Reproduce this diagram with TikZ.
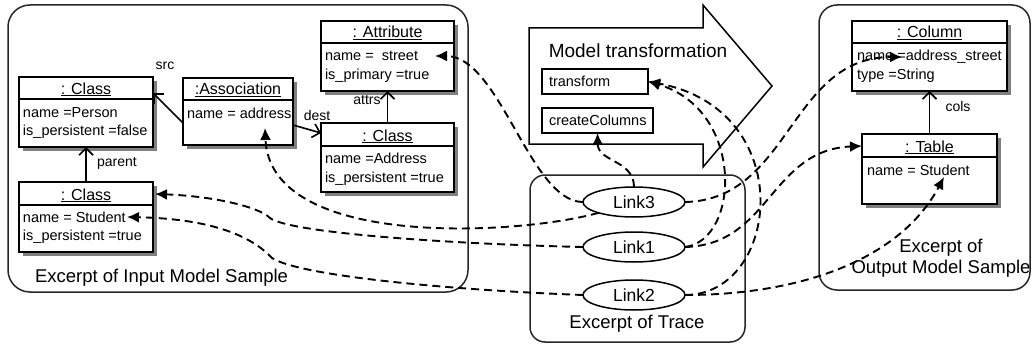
\documentclass[tikz,border=0pt]{standalone}
\usepackage{fontspec}
\setmainfont{Liberation Sans}
\usetikzlibrary{arrows.meta,shadows,shapes.geometric}
\begin{document}
\begin{tikzpicture}[x=1pt,y=-1pt,
  every node/.style={inner sep=0pt, outer sep=0pt},
  panel/.style={draw=black!85, line width=1.5pt},
  cls/.style={draw, line width=1.6pt, fill=white, drop shadow={shadow xshift=4pt,shadow yshift=-4pt,fill=black!50,opacity=1}},
  hdr/.style={line width=1.4pt},
  rulebox/.style={draw, line width=1.4pt, fill=white},
  link/.style={ellipse, draw, line width=1.5pt, fill=white, minimum width=102pt, minimum height=30pt, font=\fontsize{17.5}{20}\selectfont},
  ttl/.style={anchor=base, font=\fontsize{16}{18}\selectfont},
  att/.style={anchor=base west, font=\fontsize{14.5}{17}\selectfont},
  lbl/.style={anchor=base, font=\fontsize{14}{16}\selectfont},
  big/.style={anchor=base, font=\fontsize{18.5}{22}\selectfont},
  assoc/.style={line width=1.6pt, -{Straight Barb[length=7pt,width=14pt,line width=1.6pt]}},
  trace/.style={line width=1.9pt, dash pattern=on 8pt off 5pt, -{Latex[length=12pt,width=11pt]}},
]
\useasboundingbox (0,0) rectangle (1033,345);

% panels
\draw[panel, rounded corners=22pt] (8,5) rectangle (468,292);
\draw[panel, rounded corners=15pt] (530,175) rectangle (745,342);
\draw[panel, rounded corners=18pt] (819,5) rectangle (1030,290);

% model transformation arrow
\draw[line width=1.5pt, fill=white] (529,28) -- (703,28) -- (703,5) -- (772,86) -- (703,167) -- (703,144) -- (529,144) -- cycle;
\node[big, font=\fontsize{19}{22}\selectfont] (mtT) at (638,58) {Model transformation};
\node[rulebox, minimum width=106pt, minimum height=25pt] (trans) at (595,81.5) {};
\node[att] (transT) at (549,86) {transform};
\node[rulebox, minimum width=111pt, minimum height=25pt] (cc) at (597.5,120.5) {};
\node[att] (ccT) at (549,125) {createColumns};

% input model
\node[cls, minimum width=134pt, minimum height=70pt] (person) at (86,112) {};
\draw[hdr] (19,99) -- (153,99);
\node[ttl] (personT) at (86,94) {\underline{: Class}};
\node[att] (personN) at (23,117) {name =Person};
\node[att] (personP) at (23,135) {is\_persistent =false};

\node[cls, minimum width=110pt, minimum height=67pt] (assoc) at (238,111.5) {};
\draw[hdr] (183,100) -- (293,100);
\node[ttl] (assocT) at (238,95) {\underline{:Association}};
\node[att] (assocN) at (187,118) {name = address};

\node[cls, minimum width=133pt, minimum height=70pt] (attr) at (387.5,56) {};
\draw[hdr] (321,43) -- (454,43);
\node[ttl] (attrT) at (387.5,38) {\underline{: Attribute}};
\node[att] (attrN) at (325,60) {name =\ \ street};
\node[att] (attrP) at (325,79) {is\_primary =true};

\node[cls, minimum width=133pt, minimum height=69pt] (address) at (387.5,157.5) {};
\draw[hdr] (321,146) -- (454,146);
\node[ttl] (addressT) at (387.5,141) {\underline{: Class}};
\node[att] (addressN) at (325,163) {name =Address};
\node[att] (addressP) at (325,182) {is\_persistent =true};

\node[cls, minimum width=134pt, minimum height=70pt] (student) at (86,217) {};
\draw[hdr] (19,205) -- (153,205);
\node[ttl] (studentT) at (86,200) {\underline{: Class}};
\node[att] (studentN) at (23,222) {name = Student};
\node[att] (studentP) at (23,240) {is\_persistent =true};

\node[big, anchor=base west] (inL) at (35,282) {Excerpt of Input Model Sample};

% output model
\node[cls, minimum width=155pt, minimum height=70pt] (column) at (929.5,56) {};
\draw[hdr] (852,43) -- (1007,43);
\node[ttl] (columnT) at (929.5,38) {\underline{: Column}};
\node[att] (columnN) at (857,61) {name =address\_street};
\node[att] (columnP) at (857,80) {type =String};

\node[cls, minimum width=135pt, minimum height=70pt] (table) at (929.5,169) {};
\draw[hdr] (862,157) -- (997,157);
\node[ttl] (tableT) at (929.5,152) {\underline{: Table}};
\node[att] (tableN) at (867,175) {name = Student};

\node[big] (outL1) at (941,252) {Excerpt of};
\node[big] (outL2) at (941,273) {Output Model Sample};

% trace
\node[link] (link3) at (634,202) {Link3};
\node[link] (link1) at (634,247) {Link1};
\node[link] (link2) at (634,295) {Link2};
\node[big] (traceL) at (637,328) {Excerpt of Trace};

% associations
\draw[assoc] (student.north) -- (person.south);
\draw[assoc] ([yshift=-11.5pt]assoc.west) -- ([yshift=19pt]person.east);
\draw[assoc] ([yshift=-13.5pt]assoc.east) -- ([yshift=24.5pt]address.west);
\draw[assoc] (address.north) -- (attr.south);
\draw[assoc] (table.north) -- (column.south);
\node[lbl] (srcL) at (165,70) {src};
\node[lbl] (destL) at (317,120) {dest};
\node[lbl] (attrsL) at (367,104) {attrs};
\node[lbl] (parentL) at (117,166) {parent};
\node[lbl] (colsL) at (958,111) {cols};

% trace targets
\coordinate (streetTip) at (435,56);
\coordinate (assocTip) at (265,128);
\coordinate (stuHTip) at (155,194);
\coordinate (stuNTip) at (127,217);
\coordinate (colTip) at (902,57);
\coordinate (tabHTip) at (862,146);
\coordinate (tabNTip) at (944,177);

% trace connectors
\draw[trace] (link3.west) .. controls (530,202) and (500,56) .. (streetTip);
\draw[trace] (link3.197) .. controls (520,235) and (270,250) .. (assocTip);
\draw[trace] (link3.north) .. controls (634,160) and (598,162) .. (cc.south);
\draw[trace] (link3.east) .. controls (790,200) and (790,57) .. (colTip);
\draw[trace] (link1.west) .. controls (450,244) and (290,233) .. (270,218) .. controls (258,206) and (210,196) .. (stuHTip);
\draw[trace] (link2.west) .. controls (450,290) and (300,276) .. (272,258) .. controls (255,240) and (220,219) .. (stuNTip);
\draw[trace] (link1.east) .. controls (740,240) and (745,110) .. (trans.east);
\draw[trace] (link2.east) .. controls (780,295) and (800,110) .. (trans.east);
\draw[trace] (link1.east) .. controls (770,245) and (770,150) .. (tabHTip);
\draw[trace] (link2.east) .. controls (800,295) and (900,260) .. (tabNTip);
\end{tikzpicture}
\end{document}
